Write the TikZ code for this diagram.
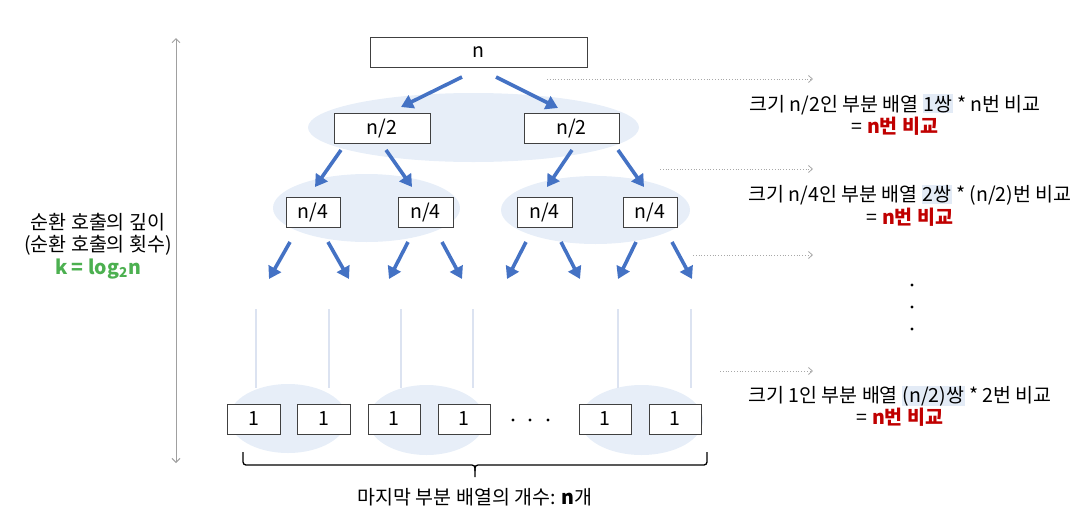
\documentclass[tikz,border=0pt]{standalone}
\usepackage{fontspec}
\setmainfont{Noto Sans CJK KR}
\usetikzlibrary{arrows.meta,shapes.geometric}
\definecolor{arrblue}{HTML}{4472C4}
\definecolor{ellfill}{HTML}{E7EEF8}
\definecolor{vline}{HTML}{DCE3F1}
\definecolor{txtred}{HTML}{C00000}
\definecolor{txtgreen}{HTML}{4CB050}
\definecolor{boxline}{HTML}{404040}
\definecolor{hlblue}{HTML}{E3EBF6}
\definecolor{axisgray}{HTML}{A0A0A0}
\definecolor{dotgray}{HTML}{A8A8A8}
\newcommand{\hlpair}[1]{{\setlength{\fboxsep}{0.5pt}\colorbox{hlblue}{#1}}}
\newcommand{\redres}{= {\bfseries\color{txtred}n번 비교}}
\begin{document}
\begin{tikzpicture}[x=1pt,y=-1pt,
  box/.style={draw=boxline,line width=1pt,fill=white,minimum height=30pt,inner sep=0pt,font=\fontsize{19.5}{23}\selectfont},
  blob/.style={ellipse,fill=ellfill,draw=none,inner sep=0pt},
  barrow/.style={draw=arrblue,line width=3.6pt,-{Triangle[length=12pt,width=14pt]}},
  guide/.style={draw=vline,line width=1.5pt},
  dotarrow/.style={draw=dotgray,line width=0.8pt,dotted,-{Straight Barb[length=4pt,width=7pt]}},
  axis/.style={draw=axisgray,line width=1pt,{Straight Barb[length=4pt,width=8pt]}-{Straight Barb[length=4pt,width=8pt]}},
  lbl/.style={font=\fontsize{19.5}{22.5}\selectfont,align=center,inner sep=0pt}
]
\useasboundingbox (0,0) rectangle (1084,520);

% background ellipses
\node[blob,minimum width=331pt,minimum height=69pt] (e2) at (473.5,127.5) {};
\node[blob,minimum width=187pt,minimum height=68pt] (e3a) at (366.5,208) {};
\node[blob,minimum width=189pt,minimum height=68pt] (e3b) at (595.5,210) {};
\node[blob,minimum width=118pt,minimum height=69pt] (eb1) at (288,418.5) {};
\node[blob,minimum width=117pt,minimum height=70pt] (eb2) at (426.5,420) {};
\node[blob,minimum width=123pt,minimum height=70pt] (eb3) at (641.5,420) {};

% boxes
\node[box,minimum width=217pt] (n) at (478.5,52.5) {n};
\node[box,minimum width=96pt] (n2a) at (382,128) {n/2};
\node[box,minimum width=95pt] (n2b) at (571.5,128) {n/2};
\node[box,minimum width=54pt] (n4a) at (313,212) {n/4};
\node[box,minimum width=55pt] (n4b) at (425.5,212) {n/4};
\node[box,minimum width=55pt] (n4c) at (544.5,212) {n/4};
\node[box,minimum width=54pt] (n4d) at (650,212) {n/4};
\node[box,minimum width=53pt] (b1) at (253.5,419) {1};
\node[box,minimum width=53pt] (b2) at (323.5,419) {1};
\node[box,minimum width=52pt] (b3) at (394,419) {1};
\node[box,minimum width=52pt] (b4) at (464,419) {1};
\node[box,minimum width=52pt] (b5) at (605,419) {1};
\node[box,minimum width=52pt] (b6) at (675,419) {1};

% arrow end coordinates
\coordinate (a1s) at (462,77);  \coordinate (a1e) at (401,107);
\coordinate (a2s) at (496,77);  \coordinate (a2e) at (558,108);
\coordinate (a3s) at (341,150); \coordinate (a3e) at (315,187);
\coordinate (a4s) at (386,150); \coordinate (a4e) at (412,187);
\coordinate (a5s) at (572,150); \coordinate (a5e) at (547,187);
\coordinate (a6s) at (618,150); \coordinate (a6e) at (644,187);
\coordinate (c1s) at (290,242); \coordinate (c1e) at (269,279);
\coordinate (c2s) at (328,242); \coordinate (c2e) at (349,279);
\coordinate (c3s) at (408,242); \coordinate (c3e) at (389,279);
\coordinate (c4s) at (442,242); \coordinate (c4e) at (462,279);
\coordinate (c5s) at (526,242); \coordinate (c5e) at (507,279);
\coordinate (c6s) at (561,242); \coordinate (c6e) at (580,279);
\coordinate (c7s) at (636,242); \coordinate (c7e) at (618,279);
\coordinate (c8s) at (672,242); \coordinate (c8e) at (692,279);

\foreach \p in {a1,a2,a3,a4,a5,a6,c1,c2,c3,c4,c5,c6,c7,c8}
  \draw[barrow] (\p s) -- (\p e);

% faint guide lines
\foreach \x [count=\i] in {256,329,401,473,618,691} {
  \coordinate (g\i t) at (\x,309);
  \coordinate (g\i b) at (\x,388);
  \draw[guide] (g\i t) -- (g\i b);
}

% horizontal dots between boxes
\foreach \x in {513,530,548} \fill (\x,420) circle (1.6pt);
% vertical dots
\foreach \y in {285,307,329} \fill (912,\y) circle (1.7pt);

% depth axis
\coordinate (axt) at (176,38);
\coordinate (axb) at (176,463);
\draw[axis] (axt) -- (axb);
\node[lbl] (depth) at (98,246) {순환 호출의 깊이\\(순환 호출의 횟수)\\{\bfseries\color{txtgreen}k = log\textsubscript{2}n}};

% dotted pointers
\coordinate (d1s) at (547,79);  \coordinate (d1e) at (813,79);
\coordinate (d2s) at (660,169); \coordinate (d2e) at (813,169);
\coordinate (d3s) at (693,255); \coordinate (d3e) at (813,255);
\coordinate (d4s) at (720,371); \coordinate (d4e) at (813,371);
\foreach \p in {d1,d2,d3,d4} \draw[dotarrow] (\p s) -- (\p e);

% right-hand texts
\node[lbl] (t1) at (895,115) {크기 n/2인 부분 배열 \hlpair{1쌍} * n번 비교\\\redres};
\node[lbl] (t2) at (910,205.5) {크기 n/4인 부분 배열 \hlpair{2쌍} * (n/2)번 비교\\\redres};
\node[lbl] (t3) at (900,406) {크기 1인 부분 배열 \hlpair{(n/2)쌍} * 2번 비교\\\redres};

% brace
\draw[line width=1.3pt,rounded corners=3pt] (243,452) -- (243,465) -- (475,465) -- (475,477);
\draw[line width=1.3pt,rounded corners=3pt] (475,471) -- (475,465) -- (707,465) -- (707,452);
\node[lbl] (cap) at (475,497) {마지막 부분 배열의 개수: {\bfseries n}개};
\end{tikzpicture}
\end{document}
